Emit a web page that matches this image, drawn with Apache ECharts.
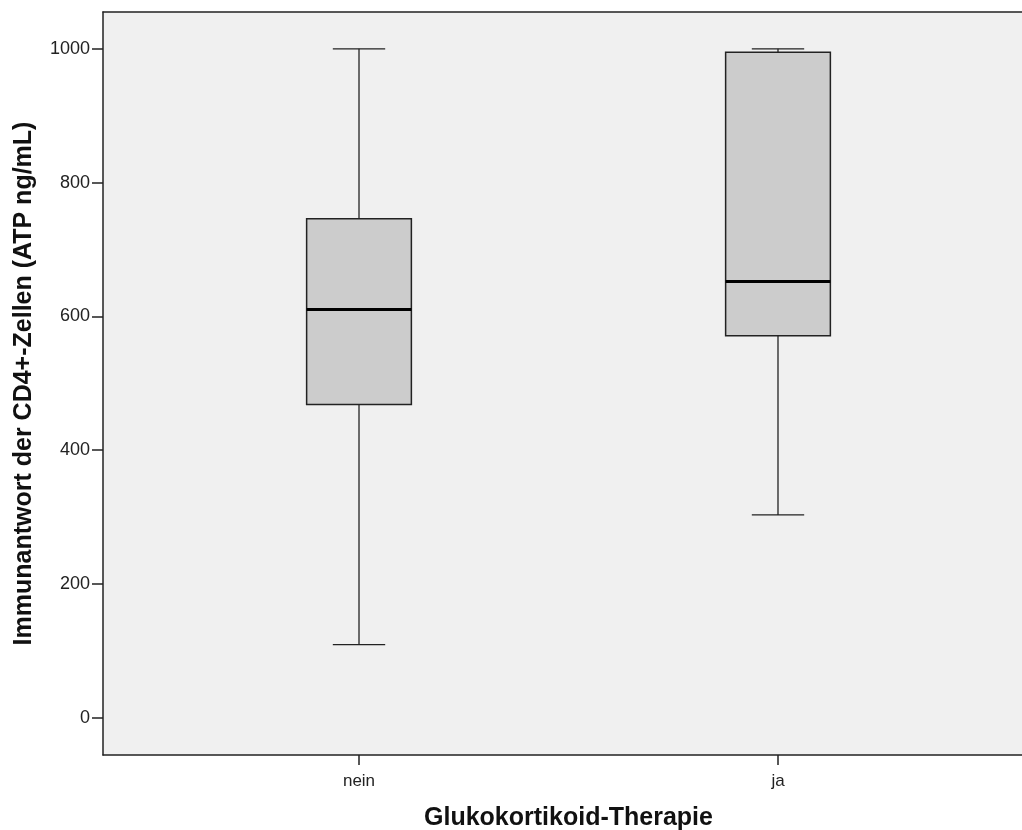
<!DOCTYPE html>
<html>
<head>
<meta charset="utf-8">
<script src="https://cdn.jsdelivr.net/npm/echarts@6/dist/echarts.min.js"></script>
<style>
  html, body { margin: 0; padding: 0; background: #fff; }
  #chart { width: 1022px; height: 830px; }
</style>
</head>
<body>
<div id="chart"></div>
<script>
// Kategorien und Box-Kennwerte
var categories = ['nein', 'ja'];
var whiskerLow = [109, 303];
var quart1 = [468, 571];
var medians = [610, 652];
var quart3 = [746, 995];
var whiskerHigh = [1000, 1000];
var yTicks = [0, 200, 400, 600, 800, 1000];

var chartDom = document.getElementById('chart');
var myChart = echarts.init(chartDom, null, { renderer: 'canvas' });

var boxData = categories.map(function (c, i) {
    return [i, whiskerLow[i], quart1[i], medians[i], quart3[i], whiskerHigh[i]];
});

var lineCol = '#222';

function renderBox(params, api) {
    var x = api.value(0);
    var pMin = api.coord([x, api.value(1)]);
    var pQ1 = api.coord([x, api.value(2)]);
    var pMed = api.coord([x, api.value(3)]);
    var pQ3 = api.coord([x, api.value(4)]);
    var pMax = api.coord([x, api.value(5)]);
    var half = api.size([0.25, 0])[0] / 2;
    var capHalf = half / 2;
    var cx = pMed[0];
    var thin = { stroke: lineCol, lineWidth: 1.3 };
    return {
        type: 'group',
        children: [
            { type: 'line', shape: { x1: cx, y1: pMax[1], x2: cx, y2: pQ3[1] }, style: thin },
            { type: 'line', shape: { x1: cx, y1: pQ1[1], x2: cx, y2: pMin[1] }, style: thin },
            { type: 'line', shape: { x1: cx - capHalf, y1: pMax[1], x2: cx + capHalf, y2: pMax[1] }, style: thin },
            { type: 'line', shape: { x1: cx - capHalf, y1: pMin[1], x2: cx + capHalf, y2: pMin[1] }, style: thin },
            {
                type: 'rect',
                shape: { x: cx - half, y: pQ3[1], width: half * 2, height: pQ1[1] - pQ3[1] },
                style: { fill: '#cccccc', stroke: lineCol, lineWidth: 1.5 }
            },
            { type: 'line', shape: { x1: cx - half, y1: pMed[1], x2: cx + half, y2: pMed[1] }, style: { stroke: '#000', lineWidth: 3 } }
        ]
    };
}

var option = {
    animation: false,
    grid: {
        left: 103,
        right: -12,
        top: 12,
        bottom: 75,
        outerBoundsMode: 'none',
        containLabel: false,
        show: true,
        backgroundColor: '#f0f0f0',
        borderWidth: 0
    },
    xAxis: [
        {
            type: 'value',
            min: -0.611,
            max: 1.611,
            position: 'bottom',
            name: 'Glukokortikoid-Therapie',
            nameLocation: 'middle',
            nameGap: 51,
            nameTextStyle: { fontFamily: 'Liberation Sans', fontWeight: 'bold', fontSize: 25, color: '#111' },
            splitLine: { show: false },
            axisLine: { show: true, onZero: false, lineStyle: { color: lineCol, width: 1.5 } },
            axisTick: { show: true, length: 10, customValues: [0, 1], lineStyle: { color: lineCol, width: 1.5 } },
            axisLabel: {
                customValues: [0, 1],
                margin: 18,
                fontFamily: 'Liberation Sans',
                fontSize: 17,
                color: '#222',
                formatter: function (v) { return categories[Math.round(v)]; }
            }
        },
        {
            type: 'value',
            min: -0.611,
            max: 1.611,
            position: 'top',
            splitLine: { show: false },
            axisLine: { show: true, onZero: false, lineStyle: { color: lineCol, width: 1.5 } },
            axisTick: { show: false },
            axisLabel: { show: false }
        }
    ],
    yAxis: {
        type: 'value',
        min: -56,
        max: 1055,
        name: 'Immunantwort der CD4+-Zellen (ATP ng/mL)',
        nameLocation: 'middle',
        nameRotate: 90,
        nameGap: 66,
        nameTextStyle: { fontFamily: 'Liberation Sans', fontWeight: 'bold', fontSize: 25, color: '#111' },
        splitLine: { show: false },
        axisLine: { show: true, onZero: false, lineStyle: { color: lineCol, width: 1.5 } },
        axisTick: { show: true, length: 11, customValues: yTicks, lineStyle: { color: lineCol, width: 1.5 } },
        axisLabel: {
            customValues: yTicks,
            margin: 13,
            fontFamily: 'Liberation Sans',
            fontSize: 18,
            color: '#222',
            formatter: function (v) { return String(v); }
        }
    },
    series: [
        {
            type: 'custom',
            renderItem: renderBox,
            encode: { x: 0, y: [1, 2, 3, 4, 5] },
            data: boxData
        }
    ]
};

option && myChart.setOption(option);
</script>
</body>
</html>
